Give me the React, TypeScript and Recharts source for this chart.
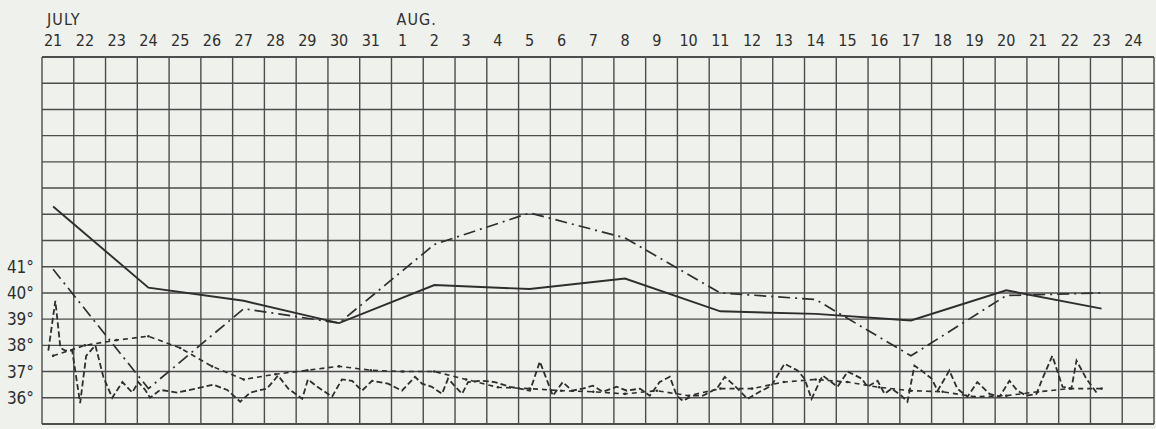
import React from 'react';
import { LineChart, Line, XAxis, YAxis, CartesianGrid, ReferenceLine } from 'recharts';

// ---- Data ----
const dayLabels = [
  '21', '22', '23', '24', '25', '26', '27', '28', '29', '30', '31',
  '1', '2', '3', '4', '5', '6', '7', '8', '9', '10', '11', '12',
  '13', '14', '15', '16', '17', '18', '19', '20', '21', '22', '23', '24',
];
const monthLabels = [
  { day: 0, text: 'JULY' },
  { day: 11, text: 'AUG.' },
];
const tempTicks = [35, 36, 37, 38, 39, 40, 41, 42, 43, 44, 45, 46, 47, 48, 49];
const labeledTemps = [36, 37, 38, 39, 40, 41];

// every third day
const threeDayDays = [0, 3, 6, 9, 12, 15, 18, 21, 24, 27, 30, 33];
const solidTemps = [43.3, 40.2, 39.7, 38.85, 40.3, 40.15, 40.55, 39.3, 39.2, 38.95, 40.1, 39.4];
const dashDotTemps = [40.9, 36.35, 39.4, 38.85, 41.85, 43.05, 42.1, 40.0, 39.75, 37.6, 39.9, 40.0];

// daily
const dailyTemps = [
  37.6, 38.0, 38.2, 38.35, 37.9, 37.2, 36.7, 36.9, 37.05, 37.2, 37.05, 37.0,
  37.0, 36.7, 36.4, 36.35, 36.27, 36.23, 36.15, 36.27, 36.08, 36.35, 36.35,
  36.6, 36.7, 36.6, 36.4, 36.27, 36.23, 36.04, 36.08, 36.23, 36.35, 36.35,
];

// several readings a day
const noisyDays = [
  -0.15, 0.07, 0.23, 0.38, 0.6, 0.85, 1.04, 1.33, 1.58, 1.86, 2.18, 2.49, 2.68, 2.9,
  3.05, 3.37, 3.91, 4.31, 5.04, 5.48, 5.89, 6.2, 6.73, 7.08, 7.4, 7.84, 8.02, 8.34,
  8.78, 9.09, 9.41, 9.72, 10.04, 10.54, 10.98, 11.39, 11.61, 11.92, 12.24, 12.43,
  12.87, 13.06, 13.49, 13.9, 14.38, 15.01, 15.32, 15.73, 16.04, 16.33, 16.67, 16.99,
  17.3, 17.74, 18.06, 18.47, 18.78, 19.09, 19.41, 19.63, 19.82, 20.13, 20.45, 20.89,
  21.14, 21.45, 21.86, 22.3, 22.61, 23.02, 23.43, 23.65, 23.87, 24.22, 24.69, 25.01,
  25.45, 25.63, 25.95, 26.17, 26.39, 26.7, 26.89, 27.11, 27.33, 27.65, 27.84, 28.21,
  28.46, 28.78, 29.09, 29.47, 29.79, 30.1, 30.35, 30.64, 30.95, 31.14, 31.45, 31.77,
  32.05, 32.21, 32.52, 32.87,
];
const noisyTemps = [
  37.8, 39.7, 37.9, 37.8, 37.8, 35.8, 37.6, 38.0, 36.8, 36.0, 36.6, 36.2, 36.6, 36.3,
  36.0, 36.3, 36.2, 36.3, 36.5, 36.3, 35.85, 36.2, 36.35, 36.85, 36.35, 35.96, 36.7, 36.4,
  36.04, 36.7, 36.65, 36.27, 36.65, 36.54, 36.27, 36.8, 36.54, 36.42, 36.15, 36.73,
  36.15, 36.6, 36.65, 36.6, 36.42, 36.27, 37.38, 36.08, 36.6, 36.27, 36.35, 36.46,
  36.23, 36.42, 36.27, 36.35, 36.08, 36.6, 36.8, 36.08, 35.88, 36.08, 36.08, 36.35,
  36.8, 36.46, 35.96, 36.27, 36.46, 37.3, 37.04, 36.73, 35.96, 36.85, 36.42, 37.0,
  36.73, 36.42, 36.65, 36.15, 36.35, 36.08, 35.85, 37.23, 37.04, 36.73, 36.27, 37.04,
  36.35, 36.04, 36.6, 36.15, 36.04, 36.65, 36.27, 36.08, 36.15, 36.73, 37.6, 36.42,
  36.35, 37.42, 36.73, 36.15,
];

// ---- Layout helpers ----
const COL_OFFSET = 0.35; // day mark sits a third into its grid column
const X_DOMAIN: [number, number] = [-COL_OFFSET, dayLabels.length - COL_OFFSET];
const Y_DOMAIN: [number, number] = [35, 49];
const gridCols = Array.from({ length: dayLabels.length + 1 }, (_, i) => i - COL_OFFSET);
const dayIdx = dayLabels.map((_, i) => i);

const solidData = threeDayDays.map((d, i) => ({ day: d, t: solidTemps[i] }));
const dashDotData = threeDayDays.map((d, i) => ({ day: d, t: dashDotTemps[i] }));
const dailyData = dailyTemps.map((t, i) => ({ day: i, t }));
const noisyData = noisyDays.map((d, i) => ({ day: d, t: noisyTemps[i] }));

const INK = '#2e2e2e';
const GRID = '#4d4d4d';
const FONT = '"DejaVu Sans Condensed", "Liberation Sans Narrow", "DejaVu Sans", sans-serif';

const DayTick = (props: any) => {
  const { x, y, payload } = props;
  const label = dayLabels[payload.value];
  const month = monthLabels.find((m) => m.day === payload.value);
  return (
    <g>
      <text x={x} y={y} dy={-3} textAnchor="middle" fill={INK} fontSize={16} fontFamily={FONT}>
        {label}
      </text>
      {month && (
        <text x={x - 6} y={y} dy={-24} textAnchor="start" fill={INK} fontSize={16} fontFamily={FONT} letterSpacing={1}>
          {month.text}
        </text>
      )}
    </g>
  );
};

export default function App() {
  return (
    <div
      style={{
        position: 'absolute',
        left: 0,
        top: 0,
        width: 1156,
        height: 429,
        background: '#eff1ec',
      }}
    >
      <LineChart
        width={1156}
        height={429}
        margin={{ top: 0, right: 2, bottom: 5, left: 0 }}
      >
        <XAxis
          type="number"
          dataKey="day"
          orientation="top"
          domain={X_DOMAIN}
          ticks={dayIdx}
          interval={0}
          height={57}
          axisLine={false}
          tickLine={false}
          tick={<DayTick />}
          allowDataOverflow
        />
        <YAxis
          type="number"
          domain={Y_DOMAIN}
          ticks={tempTicks}
          interval={0}
          width={42}
          axisLine={false}
          tickLine={false}
          allowDataOverflow
          tickFormatter={(v: number) => (labeledTemps.includes(v) ? `${v}°` : '')}
          tick={{ fill: INK, fontSize: 17, fontFamily: FONT }}
        />
        <CartesianGrid vertical={false} stroke={GRID} strokeWidth={1.4} />
        {gridCols.map((g) => (
          <ReferenceLine key={`c${g}`} x={g} stroke={GRID} strokeWidth={1.4} />
        ))}
        <ReferenceLine y={Y_DOMAIN[1]} stroke={GRID} strokeWidth={1.8} />
        <ReferenceLine y={Y_DOMAIN[0]} stroke={GRID} strokeWidth={1.8} />
        <Line
          data={noisyData}
          dataKey="t"
          stroke={INK}
          strokeWidth={1.8}
          strokeDasharray="6 3"
          dot={false}
          isAnimationActive={false}
        />
        <Line
          data={dailyData}
          dataKey="t"
          stroke={INK}
          strokeWidth={1.6}
          strokeDasharray="5 4"
          dot={{ r: 1.3, fill: INK, stroke: 'none' }}
          isAnimationActive={false}
        />
        <Line
          data={dashDotData}
          dataKey="t"
          stroke={INK}
          strokeWidth={1.7}
          strokeDasharray="12 5 2 5"
          dot={false}
          isAnimationActive={false}
        />
        <Line
          data={solidData}
          dataKey="t"
          stroke={INK}
          strokeWidth={1.9}
          dot={false}
          isAnimationActive={false}
        />
      </LineChart>
    </div>
  );
}
